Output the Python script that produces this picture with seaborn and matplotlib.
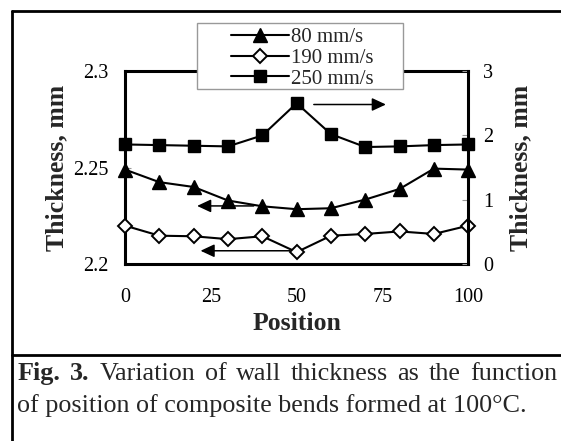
import numpy as np
import pandas as pd
import seaborn as sns
import matplotlib.pyplot as plt
from matplotlib.lines import Line2D
from matplotlib.patches import Rectangle

# values (position along the bend, thickness in mm)
position = [0, 10, 20, 30, 40, 50, 60, 70, 80, 90, 100]
speed_80 = [2.249, 2.2425, 2.240, 2.233, 2.230, 2.2285, 2.229, 2.2335, 2.239, 2.2495, 2.249]
speed_190 = [2.220, 2.2148, 2.2145, 2.213, 2.2145, 2.2063, 2.2148, 2.2157, 2.217, 2.2157, 2.220]
speed_250 = [1.86, 1.85, 1.84, 1.83, 2.0, 2.5, 2.02, 1.82, 1.83, 1.85, 1.86]
labels = ['80 mm/s', '190 mm/s', '250 mm/s']
x_ticks = [0, 25, 50, 75, 100]
left_ticks = [2.2, 2.25, 2.3]
left_ticklabels = ['2.2', '2.25', '2.3']
right_ticks = [0, 1, 2, 3]
caption_bold = ['Fig.', '3.']
caption_line1 = 'Variation of wall thickness as the function'
caption_line2 = 'of position of composite bends formed at 100°C.'

sns.set_style('white')
plt.rcParams['font.family'] = ['Liberation Serif', 'DejaVu Serif']

W, H = 561, 441
fig = plt.figure(figsize=(W / 100, H / 100), dpi=100)
ax = fig.add_axes([125 / W, 1 - 264.3 / H, 343.3 / W, 193.3 / H])
ax2 = ax.twinx()

line_kw = dict(color='black', linewidth=1.5, markeredgecolor='black',
               clip_on=False, zorder=5, legend=False)
sns.lineplot(x=position, y=speed_80, ax=ax, marker='^', markersize=9.5,
             markeredgewidth=1.0, label=labels[0], **line_kw)
sns.lineplot(x=position, y=speed_190, ax=ax, marker='D', markersize=6.8,
             markeredgewidth=1.4, markerfacecolor='white', label=labels[1], **line_kw)
sns.lineplot(x=position, y=speed_250, ax=ax2, marker='s', markersize=9,
             markeredgewidth=1.0, label=labels[2], **line_kw)

# axes limits and ticks
ax.set_xlim(0, 100)
ax.set_ylim(2.2, 2.3)
ax2.set_ylim(0, 3)
ax.set_xticks(x_ticks)
ax.set_xticklabels([str(t) for t in x_ticks])
ax.set_yticks(left_ticks)
ax.set_yticklabels(left_ticklabels)
ax2.set_yticks(right_ticks)
ax2.set_yticklabels([str(t) for t in right_ticks])

for a in (ax, ax2):
    a.tick_params(direction='in', length=4.5, width=0.8, color='#999999',
                  labelcolor='black', labelsize=14.5)
    a.grid(False)
ax.tick_params(axis='x', pad=17)
ax.tick_params(axis='y', pad=12)
ax2.tick_params(axis='y', pad=10.8)

for side in ['left', 'bottom', 'top']:
    ax.spines[side].set_color('black')
    ax.spines[side].set_linewidth(2.2)
    ax2.spines[side].set_visible(False)
ax.spines['right'].set_visible(False)
ax2.spines['right'].set_color('black')
ax2.spines['right'].set_linewidth(2.2)

ax.set_xlabel('Position', fontsize=18.5, fontweight='bold', labelpad=4)
ax.set_ylabel('Thickness, mm', fontsize=18.5, fontweight='bold', labelpad=3.5)
ax2.set_ylabel('Thickness, mm', fontsize=18.5, fontweight='bold', labelpad=11.5,
               rotation=90)

# arrows showing which axis each curve belongs to
arrow = dict(arrowstyle='-|>,head_length=0.6,head_width=0.28', color='black',
             lw=1.1, mutation_scale=14, shrinkA=0, shrinkB=0)
ax.annotate('', xy=(21, 2.2302), xytext=(37.5, 2.2302), arrowprops=arrow)
ax.annotate('', xy=(22, 2.207), xytext=(48, 2.207), arrowprops=arrow)
ax2.annotate('', xy=(76, 2.48), xytext=(55, 2.48), arrowprops=arrow)

# legend with its own box, overlapping the top of the plot
handles = [ax.lines[0], ax.lines[1], ax2.lines[0]]
fig.add_artist(Rectangle((197 / W, 1 - 89 / H), 206 / W, 66 / H,
                         transform=fig.transFigure, facecolor='white',
                         edgecolor='#999999', linewidth=1.0, zorder=4))
leg = fig.legend(handles, labels, loc='center', bbox_to_anchor=(0.539, 0.868),
                 frameon=False, fontsize=15, handlelength=2.8, handletextpad=0.1,
                 labelspacing=0.05, borderpad=0.1)
leg.set_zorder(5)

# outer frame
frame_kw = dict(color='black', linewidth=2.0, transform=fig.transFigure)
fig.add_artist(Line2D([11.5 / W, 11.5 / W], [0, 1 - 11.3 / H], **frame_kw))
fig.add_artist(Line2D([11.5 / W, 1], [1 - 11.3 / H, 1 - 11.3 / H], **frame_kw))
fig.add_artist(Line2D([11.5 / W, 1], [1 - 355 / H, 1 - 355 / H], **frame_kw))

# caption: first line justified between the frame edges
cap_size = 18.8
words = [(w, 'bold') for w in caption_bold] + [(w, 'normal') for w in caption_line1.split()]
texts = [fig.text(0, 1 - 380 / H, w, fontsize=cap_size, fontweight=fw,
                  va='baseline', ha='left') for w, fw in words]
fig.canvas.draw()
renderer = fig.canvas.get_renderer()
widths = [t.get_window_extent(renderer).width for t in texts]
left_px, right_px = 18, 557
gap = (right_px - left_px - sum(widths)) / (len(texts) - 1)
x = left_px
for t, wd in zip(texts, widths):
    t.set_x(x / W)
    x += wd + gap

fig.text(17 / W, 1 - 412 / H, caption_line2, fontsize=cap_size,
         va='baseline', ha='left')

fig.savefig('out.png', dpi=100)
